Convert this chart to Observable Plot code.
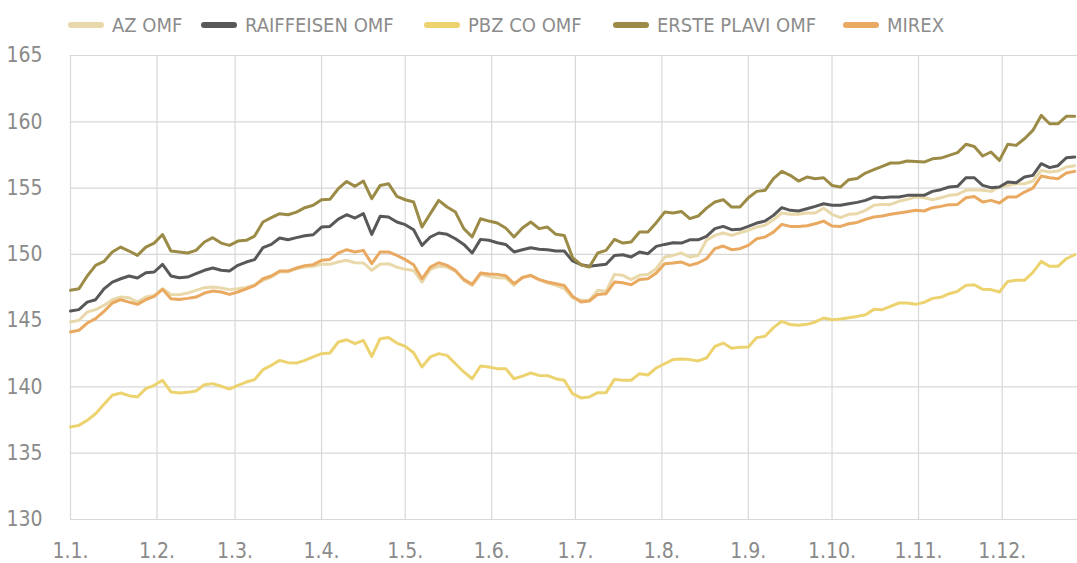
<!DOCTYPE html>
<html>
<head>
<meta charset="utf-8">
<script src="https://cdn.jsdelivr.net/npm/d3@7"></script>
<script src="https://cdn.jsdelivr.net/npm/@observablehq/plot@0.6"></script>
<style>
  html, body { margin: 0; padding: 0; background: #fff; }
  #wrap { position: relative; width: 1077px; height: 563px; overflow: hidden;
          font-family: "Liberation Sans Narrow", "DejaVu Sans Condensed", "Roboto", sans-serif; }
  #legend { position: relative; height: 40px; }
  .item { position: absolute; top: 5px; height: 40px; display: flex; align-items: center; }
  .sw { width: 36px; height: 6px; border-radius: 3px; margin-right: 8px; }
  .lbl { font-size: 20px; color: #8c8c8c; line-height: 1; }
</style>
</head>
<body>
<div id="wrap">
  <div id="legend"></div>
  <div id="chart"></div>
</div>
<script>
// ---- data (one sample every 3 days from 1 Jan) ----
const startDate = "2019-01-01";
const stepDays = 3;
const endDate = "2019-12-28";
const seriesNames = ["AZ OMF", "RAIFFEISEN OMF", "PBZ CO OMF", "ERSTE PLAVI OMF", "MIREX"];
const seriesColors = ["#e8d8aa", "#585858", "#ecd370", "#9c8b46", "#e9a961"];
const yTicks = [130, 135, 140, 145, 150, 155, 160, 165];

const azOmf = [
  144.9, 145.02, 145.65, 145.83, 146.15, 146.58, 146.78, 146.73, 146.4, 146.78, 146.9, 147.41, 146.98, 146.96, 147.08, 147.28, 147.49, 147.54, 147.46, 147.34, 147.41,
  147.51, 147.69, 148.04, 148.29, 148.67, 148.69, 148.92, 149.04, 149.1, 149.25, 149.25, 149.42, 149.55, 149.37, 149.35, 148.8, 149.25, 149.3, 149.04, 148.87,
  148.79, 147.91, 148.87, 149.1, 149.04, 148.74, 148.04, 147.66, 148.49, 148.34, 148.24, 148.22, 147.66, 148.29, 148.39, 148.09, 147.84, 147.66, 147.41, 146.73,
  146.53, 146.53, 147.29, 147.21, 148.49, 148.42, 148.09, 148.42, 148.49, 148.92, 149.8, 149.92, 150.1, 149.8, 149.92, 151.06, 151.43, 151.61, 151.43, 151.63,
  151.81, 152.06, 152.19, 152.61, 153.12, 153.02, 153.02, 153.12, 153.12, 153.49, 153.02, 152.77, 153.02, 153.07, 153.32, 153.7, 153.77, 153.77, 154.0, 154.15,
  154.32, 154.27, 154.12, 154.27, 154.45, 154.52, 154.83, 154.88, 154.83, 154.75, 155.08, 155.2, 155.33, 155.33, 155.53, 156.33, 156.21, 156.28, 156.59, 156.69
];
const raiffeisenOmf = [
  145.73, 145.83, 146.4, 146.58, 147.4, 147.91, 148.16, 148.37, 148.22, 148.62, 148.67, 149.25, 148.37, 148.24, 148.29, 148.54, 148.8, 148.97, 148.8, 148.74, 149.17,
  149.42, 149.6, 150.5, 150.75, 151.23, 151.1, 151.26, 151.4, 151.48, 152.06, 152.11, 152.66, 152.99, 152.74, 153.07, 151.5, 152.87, 152.82, 152.44, 152.24,
  151.86, 150.68, 151.31, 151.61, 151.51, 151.18, 150.75, 150.1, 151.13, 151.06, 150.88, 150.75, 150.18, 150.35, 150.5, 150.38, 150.35, 150.25, 150.25, 149.5,
  149.22, 149.1, 149.17, 149.25, 149.92, 149.97, 149.8, 150.18, 150.05, 150.6, 150.75, 150.88, 150.85, 151.1, 151.1, 151.36, 151.94, 152.11, 151.86, 151.89,
  152.11, 152.36, 152.51, 152.94, 153.52, 153.32, 153.27, 153.44, 153.62, 153.82, 153.7, 153.7, 153.82, 153.92, 154.07, 154.32, 154.27, 154.32, 154.32, 154.45,
  154.45, 154.45, 154.75, 154.88, 155.08, 155.13, 155.78, 155.78, 155.2, 155.03, 155.08, 155.46, 155.4, 155.83, 155.96, 156.84, 156.54, 156.69, 157.29, 157.34
];
const pbzCoOmf = [
  136.98, 137.1, 137.48, 137.98, 138.69, 139.37, 139.54, 139.34, 139.24, 139.87, 140.12, 140.5, 139.62, 139.54, 139.59, 139.69, 140.17, 140.25, 140.05, 139.84, 140.12,
  140.37, 140.55, 141.3, 141.63, 142.0, 141.83, 141.8, 142.0, 142.26, 142.51, 142.56, 143.39, 143.56, 143.26, 143.51, 142.3, 143.64, 143.72, 143.31, 143.06,
  142.58, 141.5, 142.26, 142.51, 142.38, 141.75, 141.13, 140.62, 141.58, 141.5, 141.38, 141.38, 140.62, 140.82, 141.05, 140.87, 140.85, 140.62, 140.5, 139.49,
  139.17, 139.24, 139.57, 139.57, 140.57, 140.5, 140.5, 141.0, 140.9, 141.43, 141.75, 142.06, 142.11, 142.06, 141.96, 142.18, 143.06, 143.31, 142.91, 142.99,
  143.01, 143.72, 143.82, 144.47, 144.95, 144.7, 144.65, 144.72, 144.9, 145.2, 145.07, 145.12, 145.22, 145.32, 145.45, 145.85, 145.83, 146.08, 146.33, 146.33,
  146.23, 146.38, 146.68, 146.76, 147.03, 147.21, 147.66, 147.71, 147.36, 147.34, 147.16, 147.96, 148.04, 148.04, 148.64, 149.47, 149.1, 149.1, 149.67, 149.97
];
const erstePlaviOmf = [
  147.29, 147.4, 148.37, 149.17, 149.47, 150.18, 150.55, 150.25, 149.92, 150.55, 150.85, 151.5, 150.25, 150.18, 150.1, 150.3, 150.93, 151.26, 150.85, 150.68, 151.0,
  151.06, 151.38, 152.44, 152.77, 153.07, 152.99, 153.19, 153.52, 153.7, 154.12, 154.15, 154.95, 155.5, 155.13, 155.53, 154.2, 155.2, 155.33, 154.37, 154.12,
  153.95, 152.06, 153.07, 154.07, 153.57, 153.19, 151.94, 151.31, 152.69, 152.51, 152.36, 151.99, 151.31, 151.99, 152.44, 151.94, 152.06, 151.51, 151.43, 149.75,
  149.22, 149.04, 150.1, 150.3, 151.13, 150.85, 150.93, 151.68, 151.68, 152.39, 153.19, 153.12, 153.24, 152.69, 152.89, 153.49, 153.95, 154.12, 153.57, 153.57,
  154.27, 154.75, 154.83, 155.71, 156.26, 155.96, 155.53, 155.83, 155.71, 155.78, 155.2, 155.08, 155.63, 155.73, 156.13, 156.39, 156.64, 156.89, 156.89, 157.04,
  157.01, 156.96, 157.21, 157.26, 157.47, 157.67, 158.3, 158.14, 157.42, 157.72, 157.09, 158.3, 158.22, 158.72, 159.35, 160.48, 159.85, 159.85, 160.41, 160.41
];
const mirex = [
  144.14, 144.27, 144.82, 145.15, 145.7, 146.33, 146.58, 146.4, 146.23, 146.58, 146.83, 147.36, 146.66, 146.6, 146.68, 146.78, 147.08, 147.23, 147.16, 146.98, 147.16,
  147.39, 147.64, 148.16, 148.37, 148.74, 148.74, 148.97, 149.15, 149.22, 149.55, 149.62, 150.1, 150.35, 150.18, 150.3, 149.3, 150.18, 150.18, 149.92, 149.6,
  149.22, 148.16, 149.04, 149.37, 149.17, 148.79, 148.11, 147.74, 148.59, 148.52, 148.49, 148.39, 147.79, 148.24, 148.42, 148.09, 147.91, 147.79, 147.66, 146.83,
  146.41, 146.48, 146.98, 147.03, 147.91, 147.86, 147.71, 148.11, 148.16, 148.59, 149.3, 149.35, 149.42, 149.17, 149.35, 149.67, 150.43, 150.63, 150.35, 150.43,
  150.68, 151.18, 151.31, 151.68, 152.26, 152.11, 152.11, 152.16, 152.31, 152.51, 152.14, 152.11, 152.31, 152.41, 152.64, 152.82, 152.89, 153.02, 153.12, 153.22,
  153.32, 153.27, 153.52, 153.62, 153.75, 153.77, 154.27, 154.37, 153.95, 154.07, 153.87, 154.32, 154.32, 154.7, 155.0, 155.91, 155.78, 155.71, 156.13, 156.26
];
const seriesValues = [azOmf, raiffeisenOmf, pbzCoOmf, erstePlaviOmf, mirex];

// ---- build table ----
const t0 = new Date(startDate + "T00:00:00Z");
const t1 = new Date(endDate + "T00:00:00Z");
const rows = [];
seriesNames.forEach((name, s) => {
  seriesValues[s].forEach((v, i) => {
    rows.push({ series: name, date: d3.utcDay.offset(t0, i * stepDays), value: v });
  });
});
const monthTicks = d3.utcMonth.range(t0, t1);
const fmt = d => `${d.getUTCDate()}.${d.getUTCMonth() + 1}.`;

// ---- legend ----
const legendLeft = [68, 201, 424, 613, 843];
const legend = document.getElementById("legend");
seriesNames.forEach((n, i) => {
  const it = document.createElement("div");
  it.className = "item";
  it.style.left = legendLeft[i] + "px";
  it.innerHTML = `<span class="sw" style="background:${seriesColors[i]}"></span><span class="lbl">${n}</span>`;
  legend.appendChild(it);
});

// ---- chart ----
const font = `"Liberation Sans Narrow", "DejaVu Sans Condensed", Roboto, sans-serif`;
const chart = Plot.plot({
  width: 1077,
  height: 523,
  marginTop: 15,
  marginBottom: 44,
  marginLeft: 70,
  marginRight: 0,
  style: { fontFamily: font, fontSize: "21px", color: "#8a8a8a", background: "#fff", overflow: "visible" },
  x: { type: "utc", domain: [t0, t1] },
  y: { domain: [130, 165] },
  color: { domain: seriesNames, range: seriesColors },
  marks: [
    Plot.gridY(yTicks, { stroke: "#d8d8d8", strokeOpacity: 1, strokeWidth: 1.2 }),
    Plot.gridX(monthTicks, { stroke: "#d8d8d8", strokeOpacity: 1, strokeWidth: 1.2 }),
    Plot.axisY(yTicks, { tickSize: 0, tickPadding: 28, label: null, fill: "#8a8a8a", fontSize: 21 }),
    Plot.axisX(monthTicks, { tickSize: 0, tickPadding: 24, label: null, tickFormat: fmt, fill: "#8a8a8a", fontSize: 21 }),
    Plot.line(rows, {
      x: "date", y: "value", z: "series", stroke: "series",
      strokeWidth: 3, strokeLinejoin: "round", strokeLinecap: "round"
    })
  ]
});
document.getElementById("chart").appendChild(chart);
</script>
</body>
</html>
